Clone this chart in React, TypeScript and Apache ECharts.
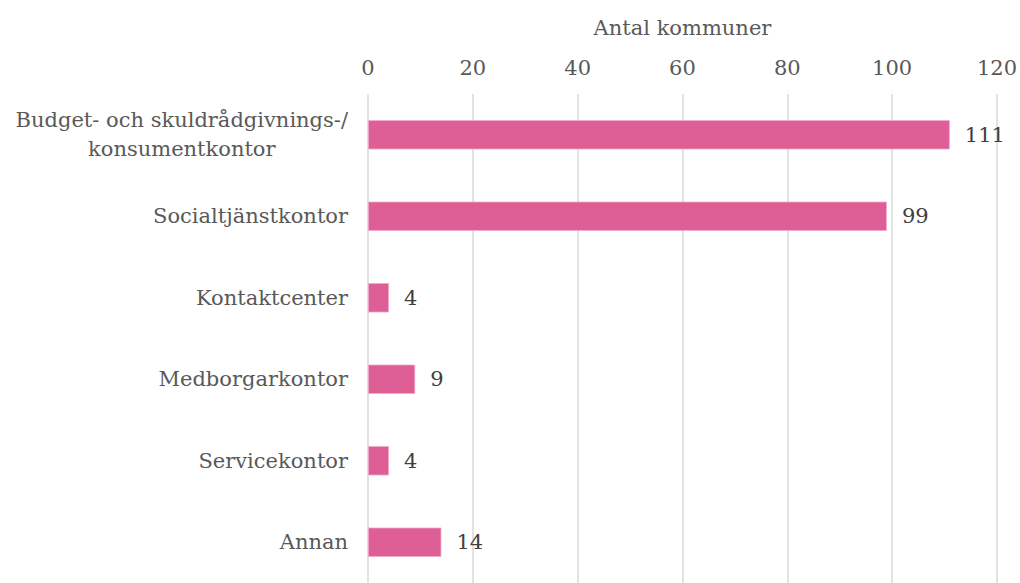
import React, { useEffect, useRef } from "react";
import * as echarts from "echarts";

const categories = [
  "Budget- och skuldrådgivnings-/\nkonsumentkontor",
  "Socialtjänstkontor",
  "Kontaktcenter",
  "Medborgarkontor",
  "Servicekontor",
  "Annan",
];
const values = [111, 99, 4, 9, 4, 14];
const axisName = "Antal kommuner";
const xMin = 0;
const xMax = 120;
const xInterval = 20;

const FONT = "DejaVu Serif";

export default function App() {
  const ref = useRef<HTMLDivElement>(null);
  useEffect(() => {
    if (!ref.current) return;
    const chart = echarts.init(ref.current, null, { renderer: "svg" });
    chart.setOption({
      animation: false,
      grid: { left: 368, right: 22, top: 94, height: 496, containLabel: false },
      xAxis: {
        type: "value",
        position: "top",
        min: xMin,
        max: xMax,
        interval: xInterval,
        name: axisName,
        nameLocation: "middle",
        nameGap: 56,
        nameTextStyle: { fontFamily: FONT, fontSize: 21, color: "#595959" },
        axisLine: { show: false },
        axisTick: { show: false },
        axisLabel: { fontFamily: FONT, fontSize: 21, color: "#595959", margin: 16 },
        splitLine: { show: true, lineStyle: { color: "#d9d9d9", width: 1.5 } },
      },
      yAxis: {
        type: "category",
        inverse: true,
        data: categories,
        axisLine: { show: false },
        axisTick: { show: false },
        axisLabel: {
          margin: 20,
          formatter: (v: string) =>
            v
              .split("\n")
              .map((l) => `{c|${l}}`)
              .join("\n"),
          rich: {
            c: {
              align: "center",
              fontFamily: FONT,
              fontSize: 21,
              color: "#595959",
              lineHeight: 29,
            },
          },
        },
      },
      series: [
        {
          type: "bar",
          data: values,
          barWidth: "36%",
          itemStyle: { color: "#DE5E96", borderColor: "#F2A9C8", borderWidth: 0.8 },
          label: {
            show: true,
            position: "right",
            distance: 15,
            fontFamily: FONT,
            fontSize: 21,
            color: "#404040",
          },
        },
      ],
    });
    return () => chart.dispose();
  }, []);
  return (
    <div
      ref={ref}
      style={{ position: "absolute", left: 0, top: 0, width: 1020, height: 583 }}
    />
  );
}
